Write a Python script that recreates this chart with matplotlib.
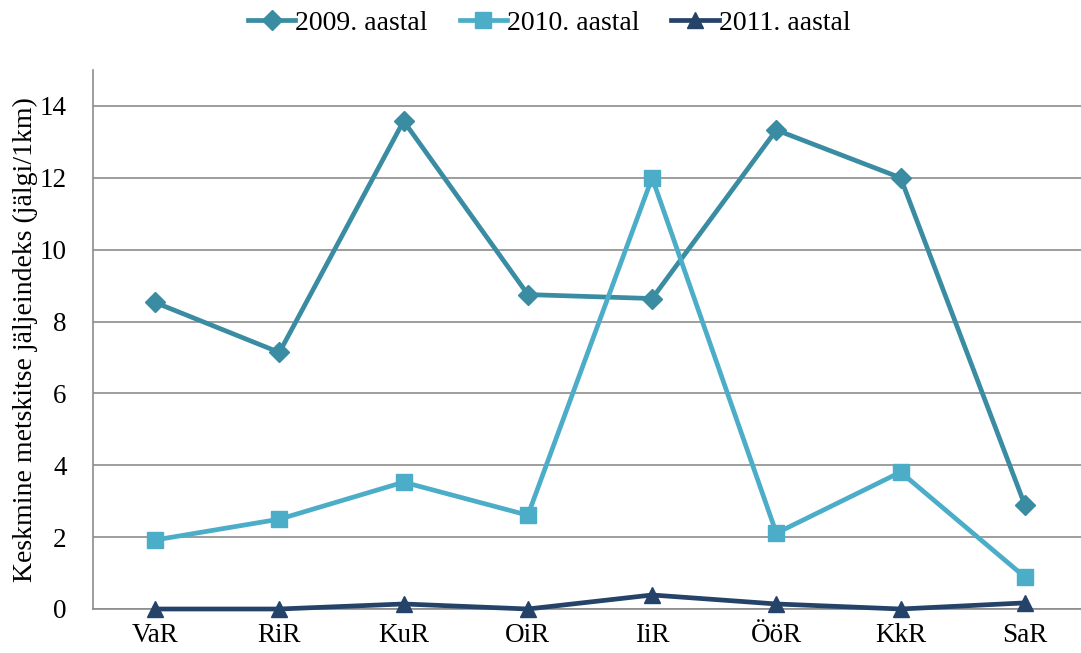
import matplotlib
matplotlib.use("Agg")
import matplotlib.pyplot as plt

categories = ["VaR", "RiR", "KuR", "OiR", "IiR", "ÖöR", "KkR", "SaR"]
y2009 = [8.53, 7.14, 13.58, 8.75, 8.64, 13.33, 12.0, 2.89]
y2010 = [1.92, 2.50, 3.53, 2.61, 12.0, 2.11, 3.81, 0.89]
y2011 = [0.0, 0.0, 0.14, 0.0, 0.39, 0.14, 0.0, 0.17]
series_labels = ["2009. aastal", "2010. aastal", "2011. aastal"]
yticks = [0, 2, 4, 6, 8, 10, 12, 14]

plt.rcParams["font.family"] = ["Liberation Serif", "DejaVu Serif"]

W, H = 1081, 653
fig = plt.figure(figsize=(W / 100, H / 100), dpi=100)
ax = fig.add_axes([93 / W, 1 - 609 / H, (1087 - 93) / W, (609 - 70) / H])

x = list(range(len(categories)))
ax.plot(x, y2009, color="#3A8CA2", lw=3.4, marker="D", ms=10.5, label=series_labels[0],
        zorder=3, clip_on=False)
ax.plot(x, y2010, color="#4BADC7", lw=3.4, marker="s", ms=11.5, label=series_labels[1],
        zorder=3, clip_on=False)
ax.plot(x, y2011, color="#254369", lw=3.4, marker="^", ms=12, label=series_labels[2],
        zorder=4, clip_on=False)

ax.set_xlim(-0.5, 7.5)
ax.set_ylim(0, 15)
ax.set_yticks(yticks)
ax.set_xticks(x)
ax.set_xticklabels(categories)
ax.grid(axis="y", color="#8c8c8c", lw=1.2)
ax.set_axisbelow(True)
for s in ["top", "right"]:
    ax.spines[s].set_visible(False)
for s in ["left", "bottom"]:
    ax.spines[s].set_color("#8c8c8c")
    ax.spines[s].set_linewidth(1.2)
ax.tick_params(axis="both", length=0, labelsize=19.5, colors="black")
ax.tick_params(axis="y", pad=19)
ax.tick_params(axis="x", pad=10)
ax.set_ylabel("Keskmine metskitse jäljeindeks (jälgi/1km)", fontsize=20, labelpad=1)

fig.legend(loc="upper center", bbox_to_anchor=(0.508, 1.022), ncol=3, frameon=False,
           fontsize=20, handlelength=1.7, columnspacing=1.15, handletextpad=0.0)

fig.savefig("out.png", dpi=100)
